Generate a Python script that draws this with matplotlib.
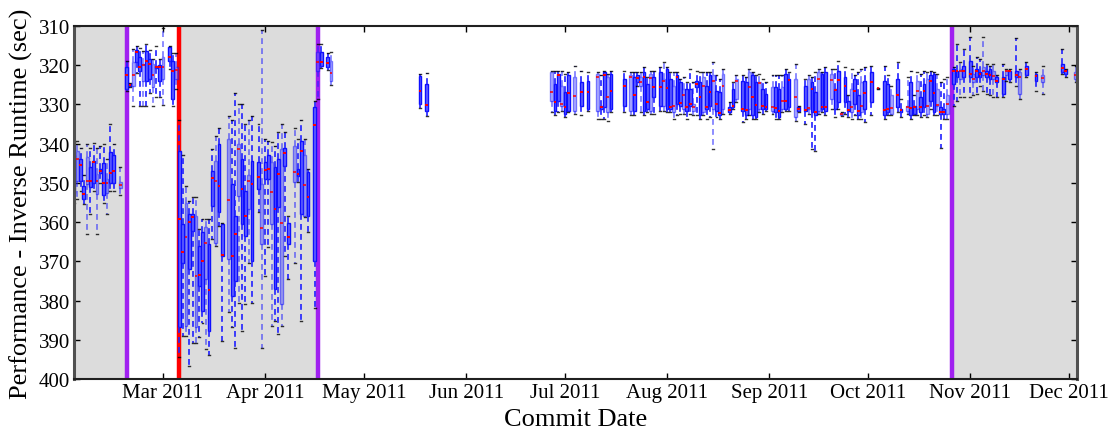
import matplotlib
matplotlib.use("Agg")
import matplotlib.pyplot as plt
import matplotlib.dates as mdates
import pandas as pd

# ---------------- data ----------------
commit_dates = [
    # Feb (before first change)
    "2011-02-02", "2011-02-03", "2011-02-04", "2011-02-05", "2011-02-06", "2011-02-07",
    "2011-02-08", "2011-02-09", "2011-02-10", "2011-02-11", "2011-02-12", "2011-02-13",
    "2011-02-14", "2011-02-16",
    # Feb 18 - Mar 5
    "2011-02-18", "2011-02-19", "2011-02-20", "2011-02-21", "2011-02-22", "2011-02-23",
    "2011-02-24", "2011-02-25", "2011-02-26", "2011-02-27", "2011-02-28", "2011-03-01",
    "2011-03-03", "2011-03-04", "2011-03-05",
    # Mar 6 - Apr 16
    "2011-03-06", "2011-03-07", "2011-03-08", "2011-03-09", "2011-03-10", "2011-03-11",
    "2011-03-12", "2011-03-13", "2011-03-14", "2011-03-15", "2011-03-16", "2011-03-17",
    "2011-03-18", "2011-03-19", "2011-03-21", "2011-03-22", "2011-03-23", "2011-03-24",
    "2011-03-25", "2011-03-26", "2011-03-27", "2011-03-28", "2011-03-30", "2011-03-31",
    "2011-04-01", "2011-04-02", "2011-04-03", "2011-04-04", "2011-04-05", "2011-04-06",
    "2011-04-07", "2011-04-08", "2011-04-10", "2011-04-11", "2011-04-12", "2011-04-13",
    "2011-04-14", "2011-04-16",
    # Apr 17 - May
    "2011-04-17", "2011-04-18", "2011-04-20", "2011-04-21", "2011-05-18", "2011-05-20",
    # Jun 27 - Oct 25
    "2011-06-27", "2011-06-28", "2011-06-29", "2011-06-30", "2011-07-01", "2011-07-02",
    "2011-07-04", "2011-07-06", "2011-07-08", "2011-07-11", "2011-07-12", "2011-07-13",
    "2011-07-14", "2011-07-15", "2011-07-19", "2011-07-21", "2011-07-22", "2011-07-23",
    "2011-07-24", "2011-07-25", "2011-07-26", "2011-07-27", "2011-07-28", "2011-07-30",
    "2011-07-31", "2011-08-01", "2011-08-02", "2011-08-03", "2011-08-04", "2011-08-05",
    "2011-08-06", "2011-08-07", "2011-08-08", "2011-08-09", "2011-08-10", "2011-08-11",
    "2011-08-12", "2011-08-13", "2011-08-14", "2011-08-15", "2011-08-16", "2011-08-17",
    "2011-08-18", "2011-08-20", "2011-08-21", "2011-08-22", "2011-08-24", "2011-08-25",
    "2011-08-26", "2011-08-27", "2011-08-28", "2011-08-29", "2011-08-30", "2011-08-31",
    "2011-09-02", "2011-09-03", "2011-09-04", "2011-09-05", "2011-09-06", "2011-09-07",
    "2011-09-09", "2011-09-10", "2011-09-12", "2011-09-13", "2011-09-14", "2011-09-15",
    "2011-09-16", "2011-09-17", "2011-09-18", "2011-09-20", "2011-09-21", "2011-09-22",
    "2011-09-23", "2011-09-24", "2011-09-25", "2011-09-26", "2011-09-27", "2011-09-28",
    "2011-09-29", "2011-09-30", "2011-10-02", "2011-10-04", "2011-10-06", "2011-10-07",
    "2011-10-08", "2011-10-10", "2011-10-11", "2011-10-13", "2011-10-14", "2011-10-15",
    "2011-10-16", "2011-10-17", "2011-10-18", "2011-10-19", "2011-10-20", "2011-10-21",
    "2011-10-22", "2011-10-23", "2011-10-24", "2011-10-25",
    # Oct 27 - Dec 3
    "2011-10-27", "2011-10-28", "2011-10-29", "2011-10-30", "2011-11-01", "2011-11-02",
    "2011-11-03", "2011-11-04", "2011-11-05", "2011-11-06", "2011-11-07", "2011-11-08",
    "2011-11-09", "2011-11-11", "2011-11-12", "2011-11-13", "2011-11-15", "2011-11-16",
    "2011-11-18", "2011-11-21", "2011-11-23", "2011-11-29", "2011-11-30", "2011-12-03",
]

whisker_low = [
    339.5, 339.4, 341.0, 348.0, 340.0, 341.0, 339.8, 341.0, 340.5, 340.0, 344.0, 335.0, 340.0, 346.0,
    319.0, 324.5, 315.9, 315.0, 315.5, 316.5, 314.5, 316.0, 318.4, 315.0, 318.4, 310.5, 315.0, 317.0, 317.0,
    334.0, 343.0, 350.7, 354.5, 353.7, 353.7, 361.8, 359.2, 359.2, 359.2, 341.4, 338.0, 336.0, 360.1,
    333.0, 334.0, 327.0, 330.0, 330.0, 335.0, 334.0, 333.0, 335.0, 311.0, 338.8, 339.2, 339.7, 340.5,
    337.0, 335.0, 337.0, 358.4, 336.0, 338.8, 334.0, 338.8, 346.5, 329.0,
    314.6, 314.6, 317.0, 316.6, 322.2, 322.0,
    321.4, 321.4, 321.4, 321.4, 322.2, 321.8, 320.1, 321.4, 321.8, 321.8, 322.6, 321.4, 322.2, 321.4,
    321.4, 321.8, 321.8, 321.8, 321.8, 320.5, 323.1, 321.4, 321.4, 320.5, 319.3, 320.5, 321.8, 321.8,
    321.8, 323.5, 323.1, 324.3, 321.0, 324.3, 321.4, 321.8, 321.8, 321.8, 321.8, 319.3, 322.6, 323.5,
    320.9, 329.4, 324.3, 322.6, 322.6, 323.1, 321.0, 321.8, 322.6, 322.2, 323.5, 324.3, 322.6, 322.6,
    322.6, 322.6, 321.0, 321.8, 319.7, 330.3, 323.5, 322.6, 323.1, 321.8, 321.0, 321.8, 320.5, 321.0,
    321.0, 318.8, 332.0, 320.5, 327.7, 321.0, 322.6, 321.8, 321.0, 320.5, 320.1, 325.7, 320.1, 322.6,
    325.2, 319.3, 328.6, 323.1, 321.4, 327.7, 321.8, 322.2, 321.4, 321.8, 321.4, 321.8, 322.2, 324.3,
    323.5, 323.1,
    320.5, 314.6, 319.3, 315.8, 312.9, 320.1, 318.0, 318.4, 312.9, 319.7, 320.1, 319.7, 322.6, 319.7,
    321.0, 321.0, 313.0, 321.0, 319.3, 321.8, 320.1, 315.8, 321.0, 320.1,
]

quartile_1 = [
    343.0, 341.9, 343.9, 350.8, 343.4, 346.0, 344.5, 347.7, 346.5, 345.0, 349.0, 342.0, 343.0, 349.8,
    320.5, 324.8, 319.2, 316.0, 318.0, 319.7, 316.3, 318.4, 319.8, 320.2, 320.0, 318.0, 315.4, 319.0, 320.5,
    341.8, 360.5, 355.0, 358.0, 358.0, 358.4, 366.0, 362.6, 361.3, 365.6, 346.9, 344.3, 340.1, 360.5,
    338.8, 350.3, 358.4, 340.0, 344.0, 352.0, 348.0, 344.3, 344.8, 350.3, 344.8, 343.0, 344.8, 346.0,
    344.0, 341.4, 341.0, 360.2, 340.5, 346.5, 339.2, 343.0, 347.3, 330.7,
    316.6, 316.6, 318.0, 319.0, 322.8, 324.8,
    321.8, 324.8, 322.2, 325.2, 326.9, 322.6, 323.1, 324.3, 323.9, 322.2, 330.3, 321.8, 323.1, 322.2,
    323.5, 322.6, 323.1, 322.6, 323.1, 321.8, 324.8, 322.2, 323.1, 321.8, 323.5, 321.0, 323.5, 325.2,
    322.6, 324.3, 326.0, 326.0, 326.0, 329.9, 323.9, 324.3, 323.1, 325.2, 322.6, 322.6, 326.5, 326.9,
    322.2, 330.7, 326.0, 323.5, 323.9, 324.3, 321.8, 322.6, 324.3, 324.3, 326.0, 327.3, 325.6, 325.6,
    326.0, 325.6, 322.2, 323.5, 323.5, 330.7, 325.2, 323.5, 324.3, 326.9, 321.8, 322.2, 321.8, 322.2,
    326.0, 321.4, 332.3, 323.1, 329.0, 326.0, 323.5, 327.7, 324.3, 323.9, 321.8, 325.8, 323.9, 324.8,
    327.7, 323.5, 331.1, 330.3, 324.3, 330.3, 323.9, 328.2, 324.8, 323.5, 322.6, 322.2, 326.0, 330.7,
    331.1, 327.7,
    321.0, 321.4, 321.0, 320.1, 318.8, 322.2, 321.0, 321.8, 320.5, 321.4, 321.0, 321.4, 323.1, 323.1,
    321.4, 321.4, 321.4, 321.8, 320.1, 322.2, 322.6, 319.7, 321.1, 321.8,
]

medians = [
    347.5, 343.9, 345.5, 352.8, 349.6, 349.6, 344.8, 349.5, 347.0, 350.0, 350.0, 347.6, 347.0, 350.5,
    322.4, 325.0, 322.5, 316.7, 320.5, 320.0, 319.0, 319.8, 322.4, 320.5, 320.5, 320.5, 317.8, 321.6, 321.3,
    359.2, 367.5, 363.9, 360.0, 358.8, 373.7, 373.4, 370.0, 365.2, 377.2, 348.8, 349.6, 350.9, 368.4,
    354.4, 368.6, 363.0, 341.4, 351.6, 358.5, 349.6, 350.3, 348.6, 361.6, 346.6, 346.5, 352.4, 356.7,
    347.7, 360.3, 342.4, 363.9, 347.3, 347.7, 341.8, 350.5, 353.7, 335.2,
    319.1, 319.1, 319.4, 322.0, 326.5, 330.1,
    326.9, 329.4, 322.4, 329.9, 330.7, 327.0, 327.9, 326.9, 326.9, 323.1, 330.7, 322.6, 328.2, 326.6,
    325.4, 323.1, 327.6, 323.3, 324.3, 323.1, 329.3, 323.3, 325.5, 325.5, 324.1, 325.9, 330.7, 330.3,
    323.0, 329.7, 327.6, 330.7, 330.0, 330.7, 324.8, 328.2, 325.2, 330.7, 326.7, 323.9, 329.9, 332.2,
    325.2, 331.4, 330.3, 324.0, 331.1, 331.4, 325.6, 328.2, 330.1, 324.6, 330.3, 330.7, 330.7, 330.9,
    331.6, 329.0, 329.0, 323.8, 328.0, 331.1, 331.4, 330.9, 326.0, 332.0, 323.5, 330.7, 330.7, 323.8,
    326.2, 323.8, 332.5, 325.4, 331.4, 330.7, 326.5, 331.6, 330.3, 327.1, 324.4, 325.9, 331.3, 331.1,
    331.0, 327.7, 331.3, 330.7, 331.0, 330.7, 326.5, 330.7, 326.5, 330.5, 324.1, 327.1, 330.1, 331.8,
    331.8, 329.9,
    321.6, 321.6, 321.6, 321.6, 322.2, 323.5, 321.6, 322.2, 321.6, 322.2, 322.5, 322.8, 323.9, 323.5,
    321.6, 321.6, 322.6, 323.1, 320.9, 322.8, 323.3, 320.8, 321.6, 322.6,
]

quartile_3 = [
    352.5, 349.5, 349.5, 354.1, 350.3, 351.0, 350.0, 352.8, 347.5, 353.0, 352.5, 350.0, 350.0, 351.2,
    326.0, 325.3, 325.3, 319.3, 321.5, 324.0, 324.0, 323.5, 325.5, 320.8, 324.0, 323.5, 318.9, 328.6, 323.6,
    386.8, 370.3, 386.4, 372.0, 362.2, 386.8, 376.2, 382.6, 374.5, 387.7, 355.8, 365.2, 357.5, 368.6,
    369.4, 378.8, 374.9, 353.3, 360.5, 363.5, 356.7, 369.8, 351.6, 365.6, 349.0, 349.0, 360.5, 377.1,
    356.2, 380.9, 345.6, 365.6, 349.9, 348.2, 358.0, 358.4, 358.4, 370.0,
    321.5, 320.2, 320.5, 324.0, 329.9, 331.7,
    329.0, 331.6, 329.0, 330.3, 332.4, 331.6, 331.6, 330.3, 331.1, 331.6, 331.1, 330.7, 332.0, 331.1,
    330.3, 331.6, 331.6, 324.3, 325.2, 331.6, 331.1, 331.6, 328.2, 330.3, 330.3, 331.1, 331.1, 332.0,
    329.9, 330.3, 331.1, 331.6, 330.3, 331.6, 325.6, 332.8, 332.0, 331.1, 330.3, 331.1, 331.6, 332.8,
    331.1, 332.0, 330.7, 328.6, 331.6, 332.8, 331.1, 332.8, 333.3, 331.1, 331.1, 331.1, 331.6, 332.0,
    333.3, 331.1, 331.1, 330.7, 333.3, 331.6, 331.6, 331.1, 332.0, 332.8, 331.6, 331.1, 331.6, 328.6,
    331.1, 329.5, 332.7, 329.5, 331.6, 332.0, 329.9, 332.8, 332.0, 331.1, 329.5, 326.0, 332.8, 332.0,
    332.4, 330.7, 332.0, 331.6, 332.8, 332.4, 331.1, 332.0, 330.7, 332.4, 329.0, 332.0, 330.3, 332.4,
    332.4, 332.4,
    324.8, 323.1, 323.5, 323.1, 323.1, 324.4, 323.1, 323.1, 322.6, 323.1, 323.5, 323.5, 324.4, 327.3,
    322.6, 323.5, 323.1, 327.3, 322.6, 323.9, 324.4, 321.8, 322.2, 323.6,
]

whisker_high = [
    355.0, 354.0, 352.0, 355.5, 363.0, 358.0, 352.0, 363.0, 350.0, 355.0, 358.0, 352.0, 352.0, 353.0,
    326.5, 325.6, 330.4, 322.0, 330.4, 330.5, 330.5, 327.0, 330.4, 328.0, 328.0, 330.2, 321.0, 330.4, 326.0,
    394.5, 389.0, 389.0, 396.6, 390.7, 390.7, 389.4, 385.6, 392.4, 394.0, 364.3, 366.0, 361.0, 390.2,
    383.0, 386.8, 392.0, 380.5, 387.7, 380.9, 370.3, 380.5, 357.5, 392.0, 373.7, 366.4, 386.4, 385.1,
    388.5, 386.4, 368.6, 374.5, 370.3, 349.9, 385.1, 358.8, 362.6, 382.0,
    328.6, 320.8, 321.2, 325.0, 330.8, 333.0,
    332.0, 332.8, 332.0, 331.6, 333.3, 332.0, 332.4, 332.8, 331.6, 333.7, 333.7, 333.7, 334.1, 332.0,
    332.0, 332.8, 332.8, 325.2, 332.0, 332.8, 332.0, 332.4, 332.4, 331.6, 331.6, 332.0, 332.0, 333.7,
    332.8, 332.4, 332.4, 333.7, 332.4, 332.8, 332.8, 333.7, 332.8, 333.7, 333.3, 341.3, 333.3, 333.7,
    332.4, 332.4, 331.1, 329.4, 334.5, 333.7, 332.8, 333.7, 333.7, 332.0, 332.4, 331.6, 332.4, 333.7,
    333.7, 332.0, 331.6, 331.6, 334.1, 332.0, 335.0, 332.4, 341.3, 341.8, 332.4, 332.0, 332.8, 331.1,
    333.3, 331.1, 333.0, 332.4, 333.3, 333.7, 332.8, 333.7, 333.7, 334.5, 332.8, 326.1, 333.7, 332.8,
    332.8, 332.0, 333.3, 332.4, 333.7, 332.8, 332.8, 333.3, 332.8, 333.3, 331.1, 332.8, 332.8, 341.0,
    333.7, 333.7,
    330.3, 329.0, 328.2, 328.2, 328.2, 327.7, 327.3, 325.2, 326.5, 327.3, 327.7, 328.2, 328.2, 328.2,
    323.9, 324.4, 325.2, 328.6, 323.1, 326.5, 327.3, 322.2, 323.1, 324.4,
]

# change points
purple_changes = ["2011-02-18", "2011-04-17", "2011-10-26 12:00"]
red_changes = ["2011-03-06"]
gray_spans = [("2011-02-01", "2011-02-18"), ("2011-03-06", "2011-04-17"),
              ("2011-10-26 12:00", "2011-12-05")]

x_range = ("2011-02-02", "2011-12-03 10:00")
y_ticks = [310, 320, 330, 340, 350, 360, 370, 380, 390, 400]

# ---------------- plotting ----------------
plt.rcParams["font.family"] = ["Liberation Serif", "DejaVu Serif"]

fig = plt.figure(figsize=(11.2, 4.31), dpi=100)
ax = fig.add_axes([74 / 1120, 1 - 380 / 431, (1077 - 74) / 1120, (380 - 27) / 431])

pos = mdates.date2num(pd.to_datetime(commit_dates))
stats = []
for i in range(len(commit_dates)):
    stats.append(dict(whislo=whisker_low[i], q1=quartile_1[i], med=medians[i],
                      q3=quartile_3[i], whishi=whisker_high[i], fliers=[]))

for a, b in gray_spans:
    ax.axvspan(mdates.date2num(pd.Timestamp(a)), mdates.date2num(pd.Timestamp(b)),
               color="#dcdcdc", zorder=0, lw=0)

for d in purple_changes:
    ax.axvline(mdates.date2num(pd.Timestamp(d)), color="#a020f0", lw=3.2, zorder=1)
for d in red_changes:
    ax.axvline(mdates.date2num(pd.Timestamp(d)), color="#ff0000", lw=3.2, zorder=1)

res = ax.bxp(stats, positions=pos, widths=0.85, patch_artist=True,
             showfliers=False, manage_ticks=False, capwidths=0.6,
             boxprops=dict(facecolor="#6464ff", edgecolor="#0f0fff", lw=1.0),
             whiskerprops=dict(color="#2020ff", lw=1.2, linestyle=(0, (3.5, 2.5))),
             capprops=dict(color="black", lw=1.0),
             medianprops=dict(color="#ff0000", lw=1.4))

for i in range(len(stats)):
    pale = (i % 3 == 1)
    alpha = 0.5 if pale else 1.0
    res["boxes"][i].set_alpha(alpha)
    res["medians"][i].set_alpha(0.8 if pale else 1.0)
    for w in res["whiskers"][2 * i:2 * i + 2]:
        w.set_alpha(0.6 if pale else 1.0)
    for c in res["caps"][2 * i:2 * i + 2]:
        c.set_alpha(0.8)
    for art in [res["boxes"][i], res["medians"][i]] + res["whiskers"][2 * i:2 * i + 2] + res["caps"][2 * i:2 * i + 2]:
        art.set_zorder(2)

ax.set_xlim(mdates.date2num(pd.Timestamp(x_range[0])), mdates.date2num(pd.Timestamp(x_range[1])))
ax.set_ylim(400, 310)
ax.set_yticks(y_ticks)
ax.xaxis.set_major_locator(mdates.MonthLocator())
ax.xaxis.set_major_formatter(mdates.DateFormatter("%b %Y"))

ax.tick_params(direction="in", top=True, right=True, length=4, width=1, labelsize=15, pad=3)
for s in ["top", "bottom"]:
    ax.spines[s].set_linewidth(1.5)
    ax.spines[s].set_color("#202020")
for s in ["left", "right"]:
    ax.spines[s].set_linewidth(2.2)
    ax.spines[s].set_color("#505050")

ax.set_xlabel("Commit Date", fontsize=19, labelpad=4)
ax.set_ylabel("Performance - Inverse Runtime (sec)", fontsize=19, labelpad=4)

fig.savefig("out.png", dpi=100)
